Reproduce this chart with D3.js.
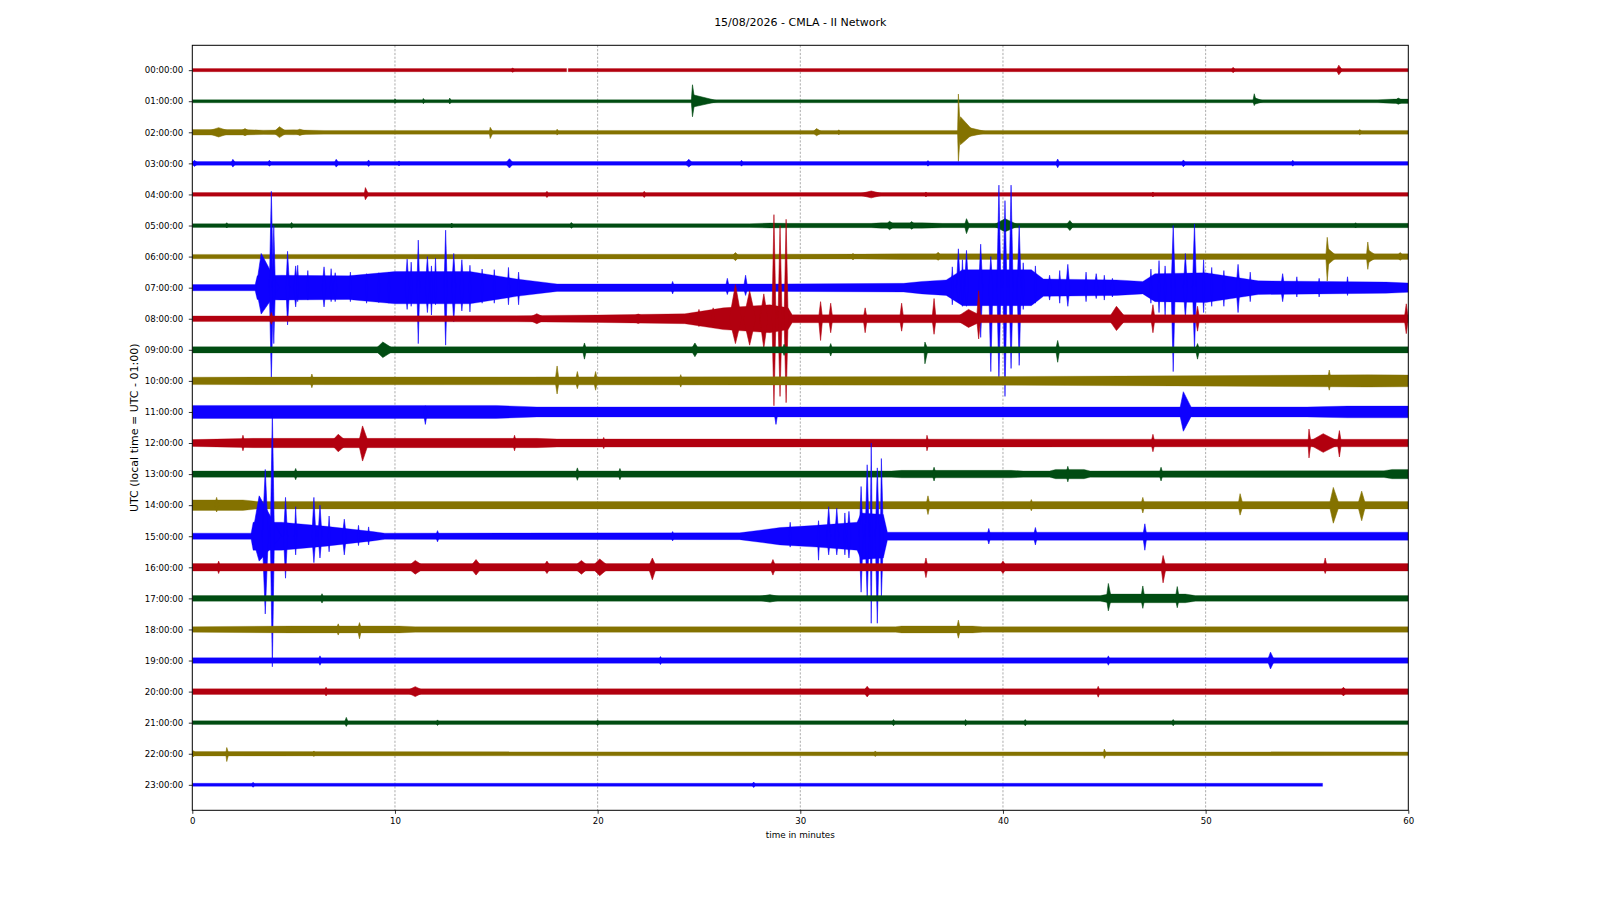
<!DOCTYPE html>
<html>
<head>
<meta charset="utf-8">
<title>CMLA dayplot</title>
<script src="https://cdn.jsdelivr.net/npm/d3@7"></script>
<style>
    body { margin: 0; background: #fff; }
    #chart { width: 1600px; height: 900px; }
    text { font-family: "DejaVu Sans", sans-serif; fill: #000; }
</style>
</head>
<body>
<div id="chart"></div>
<script>
// one trace per hour, minutes on x
var titleText = '15/08/2026 - CMLA - II Network';
var hourLabels = ['00:00:00','01:00:00','02:00:00','03:00:00','04:00:00','05:00:00',
    '06:00:00','07:00:00','08:00:00','09:00:00','10:00:00','11:00:00','12:00:00',
    '13:00:00','14:00:00','15:00:00','16:00:00','17:00:00','18:00:00','19:00:00',
    '20:00:00','21:00:00','22:00:00','23:00:00'];
var minuteTicks = [0, 10, 20, 30, 40, 50, 60];
var traceColors = ['#B2000F', '#004C12', '#847200', '#0E01FF'];

// background noise half-width per hour: [minute, amplitude] (null = data gap)
// amplitude unit: 100 = one trace spacing
var noiseBands = [
    [[0,5],[18.47,5],null,[18.55,5],[60,5]],
    [[0,5],[58.5,5],[59.3,7],[60,7]],
    [[0,9],[2.5,9],[3.5,7],[5,8],[6.5,6],[60,6]],
    [[0,6],[60,6]],
    [[0,6],[60,6]],
    [[0,6],[27.5,6],[28.5,8],[29.4,7],[33.5,7],[34,9],[36,9],[37,7],[60,7]],
    [[0,7],[33,8],[35,9],[60,9]],
    [[0,10],[3.1,10],[3.2,38],[4.4,40],[7.7,38],[10,52],[13.7,52],[16,28],[18,12],[29,12],[35.1,14],[36,20],[37.2,25],[38,58],[41.4,58],[42,28],[45.6,25],[46.9,20],[47.5,45],[50,48],[52.6,22],[58.9,18],[60,15]],
    [[0,9],[16,10],[20,12],[24.3,16],[26.2,35],[28.5,45],[29.4,35],[29.6,13],[60,13]],
    [[0,10],[60,10]],
    [[0,12],[40,14],[51,17],[58,20],[60,19]],
    [[0,21],[15,21],[17,16],[55,16],[57,19],[60,19]],
    [[0,11],[3,15],[17,15],[18,13],[60,12]],
    [[0,10],[34.5,10],[35,12],[40.4,12],[41,10],[42.3,10],[42.6,15],[44,15],[44.3,10],[58.8,11],[59.2,15],[60,15]],
    [[0,17],[2.5,17],[3.2,12],[60,12]],
    [[0,10],[2.9,10],[3.0,45],[4.4,45],[6.6,32],[8.9,15],[9.5,10],[27,11],[29,28],[30.8,35],[32.8,45],[33,75],[34.1,70],[34.3,13],[60,13]],
    [[0,12],[60,12]],
    [[0,9],[44.8,9],[45.2,14],[49,14],[49.5,9],[60,9]],
    [[0,9],[4.9,11],[10.2,11],[11,9],[34.7,9],[35,11],[38.5,11],[39,9],[60,9]],
    [[0,9],[60,9]],
    [[0,9],[60,9]],
    [[0,6],[60,6]],
    [[0,7],[60,6]],
    [[0,5],[55.77,5]]
];

// bursts per hour: [start, peak, end, up, down]
var bursts = [
    [[15.7,15.8,15.95,7,7],[51.25,51.35,51.5,9,8],[56.45,56.57,56.75,16,15]],
    [[9.95,10.0,10.1,8,7],[11.35,11.4,11.5,9,8],[12.65,12.7,12.8,10,9],[24.62,24.68,24.8,53,50],[24.65,24.75,26.0,20,18],[52.33,52.4,52.5,24,14],[52.36,52.45,52.9,10,9],[59.3,59.5,59.8,10,10]],
    [[0.6,1.3,2.0,15,15],[2.3,2.6,2.9,12,11],[4.0,4.3,4.7,18,17],[5.0,5.3,5.8,10,10],[14.65,14.7,14.85,16,20],[17.95,18.0,18.1,10,9],[30.6,30.8,31.1,12,11],[31.8,31.9,32.0,8,8],[37.76,37.8,37.9,123,94],[37.8,37.9,38.6,50,40],[37.9,38.0,39.3,20,18],[57.5,57.6,57.75,9,8]],
    [[0,0.1,0.3,10,10],[1.9,2.0,2.15,13,12],[3.7,3.8,3.95,10,9],[7.0,7.1,7.25,13,12],[8.6,8.7,8.8,11,10],[10.1,10.2,10.3,8,8],[15.45,15.65,15.85,15,15],[24.3,24.5,24.7,13,12],[27.0,27.1,27.2,10,9],[36.2,36.3,36.4,9,9],[42.6,42.7,42.8,14,14],[48.8,48.9,49.05,11,11],[54.2,54.3,54.4,10,9]],
    [[8.48,8.54,8.7,22,17],[17.4,17.5,17.6,10,10],[22.2,22.3,22.4,10,10],[32.8,33.5,34.2,11,11],[36.1,36.2,36.3,8,8],[47.3,47.4,47.5,8,8]],
    [[1.6,1.7,1.8,9,8],[4.8,4.9,5.0,10,9],[12.7,12.8,12.9,8,8],[18.6,18.7,18.85,10,9],[34.2,34.4,34.7,14,14],[35.3,35.5,35.7,13,12],[38.1,38.2,38.35,22,26],[39.5,40.1,40.8,22,20],[43.1,43.3,43.5,16,16],[57.3,57.4,57.5,9,8]],
    [[26.6,26.8,27.0,13,13],[32.4,32.6,32.8,10,10],[36.6,36.8,37.0,14,12],[51.6,51.7,51.8,8,8],[55.93,56.0,56.1,62,79],[55.95,56.05,56.5,25,25],[57.93,58.0,58.1,47,41],[57.95,58.05,58.5,20,18],[59.4,59.6,59.8,13,12]],
    [[3.15,3.4,4.3,110,85],[3.8,3.9,4.0,310,300],[3.95,4.02,4.1,200,180],[4.62,4.7,4.8,117,120],[5.0,5.1,5.2,70,62],[5.14,5.2,5.26,72,45],[5.64,5.7,5.76,55,40],[6.4,6.5,6.6,67,62],[6.79,6.85,6.91,61,45],[6.95,7.05,7.15,48,45],[7.74,7.8,7.86,50,45],[8.54,8.6,8.66,45,50],[9.14,9.2,9.26,48,48],[9.64,9.7,9.76,50,50],[10.5,10.6,10.7,92,70],[10.74,10.8,10.86,82,60],[11.08,11.15,11.22,153,180],[11.5,11.6,11.7,100,80],[11.74,11.8,11.86,70,88],[11.94,12.0,12.06,95,55],[12.42,12.5,12.58,185,185],[12.8,12.9,13.0,110,110],[13.2,13.3,13.4,90,75],[13.64,13.7,13.76,72,78],[14.24,14.3,14.36,60,50],[14.84,14.9,14.96,58,50],[15.54,15.6,15.66,65,55],[16.04,16.1,16.16,50,55],[23.6,23.7,23.8,20,20],[26.3,26.4,26.5,30,22],[27.2,27.3,27.4,40,25],[37.44,37.5,37.56,67,55],[37.7,37.8,37.9,125,45],[37.94,38.0,38.06,90,60],[38.1,38.2,38.3,120,60],[38.8,38.9,39.0,140,160],[39.3,39.4,39.5,100,270],[39.7,39.8,39.9,330,300],[40.0,40.1,40.2,280,350],[40.3,40.4,40.5,330,260],[40.7,40.8,40.9,200,250],[40.94,41.0,41.06,80,70],[41.54,41.6,41.66,70,50],[42.2,42.3,42.4,40,40],[42.74,42.8,42.86,55,50],[43.1,43.2,43.3,75,60],[44.04,44.1,44.16,50,45],[44.5,44.6,44.7,45,35],[44.94,45.0,45.06,40,40],[45.3,45.4,45.5,30,30],[47.24,47.3,47.36,60,50],[47.64,47.7,47.76,87,80],[47.94,48.0,48.06,70,90],[48.3,48.4,48.5,200,270],[48.9,49.0,49.1,110,100],[49.35,49.45,49.55,205,200],[49.84,49.9,49.96,90,80],[50.24,50.3,50.36,65,60],[50.84,50.9,50.96,55,60],[51.5,51.6,51.7,75,80],[52.14,52.2,52.26,50,45],[53.7,53.8,53.9,45,45],[54.44,54.5,54.56,35,30],[55.54,55.6,55.66,30,30],[56.94,57.0,57.06,35,25]],
    [[3.8,3.9,4.0,20,18],[16.5,17,17.5,16,16],[21.5,22,22.5,15,15],[24.9,25.0,25.1,30,25],[25.6,25.7,25.8,35,28],[26.5,26.8,27.1,110,80],[27.2,27.5,27.8,90,85],[28.0,28.2,28.4,80,95],[28.6,28.7,28.8,335,280],[28.9,29.0,29.1,300,250],[29.2,29.3,29.4,320,270],[30.9,31.0,31.1,55,70],[31.4,31.5,31.6,50,45],[33.1,33.2,33.3,35,45],[34.9,35.0,35.1,50,40],[36.5,36.6,36.7,65,50],[37.6,38.3,39.2,30,28],[38.7,38.8,38.9,90,65],[45.2,45.6,46.1,40,38],[47.3,47.4,47.5,45,45],[49.5,49.6,49.7,40,40],[59.8,59.9,60,48,48]],
    [[9.0,9.4,10.0,25,25],[19.25,19.35,19.45,22,30],[24.6,24.8,25.0,22,22],[29.1,29.2,29.3,18,18],[31.4,31.5,31.6,20,20],[36.1,36.15,36.3,25,45],[42.6,42.7,42.8,30,40],[49.5,49.6,49.7,20,30]],
    [[5.8,5.9,6.0,22,22],[17.9,18.0,18.1,48,42],[18.9,19.0,19.1,30,25],[19.8,19.9,20.0,30,30],[24.0,24.1,24.2,20,20],[56.0,56.1,56.2,35,30]],
    [[11.4,11.5,11.6,20,40],[28.7,28.8,28.9,15,40],[48.7,48.9,49.4,65,62]],
    [[2.4,2.5,2.6,25,25],[6.8,7.2,7.7,28,28],[8.2,8.4,8.7,55,58],[15.8,15.9,16.0,25,25],[20.2,20.3,20.4,18,18],[36.2,36.25,36.35,25,25],[47.3,47.4,47.5,28,28],[55.0,55.8,56.7,30,30],[55.05,55.1,55.2,45,48],[56.5,56.6,56.7,40,45]],
    [[5.0,5.1,5.2,18,18],[18.9,19.0,19.1,20,20],[21.0,21.1,21.2,18,18],[36.5,36.6,36.7,22,22],[43.1,43.2,43.3,25,25],[47.7,47.8,47.9,22,22]],
    [[1.1,1.2,1.3,25,22],[36.2,36.3,36.4,30,30],[41.3,41.4,41.5,18,18],[46.8,46.9,47.0,25,25],[51.6,51.7,51.85,37,32],[56.1,56.3,56.6,57,58],[57.5,57.7,57.9,45,50]],
    [[2.95,3.3,4.4,130,80],[3.45,3.6,3.75,215,250],[3.85,3.95,4.05,400,420],[4.5,4.6,4.7,125,135],[5.04,5.1,5.16,95,60],[5.9,6.0,6.1,125,85],[6.2,6.3,6.4,100,70],[6.69,6.75,6.81,65,50],[7.4,7.5,7.6,55,60],[8.14,8.2,8.26,35,30],[8.64,8.7,8.76,30,28],[12.0,12.1,12.2,18,18],[23.6,23.7,23.8,15,15],[29.44,29.5,29.56,45,35],[30.84,30.9,30.96,50,77],[31.3,31.4,31.5,95,60],[31.7,31.8,31.9,90,60],[32.14,32.2,32.26,75,60],[32.3,32.4,32.5,80,70],[32.9,33.0,33.1,160,180],[33.2,33.3,33.4,230,200],[33.45,33.5,33.55,300,280],[33.7,33.8,33.9,220,280],[33.95,34.0,34.1,250,200],[39.2,39.3,39.4,25,25],[41.5,41.6,41.7,28,28],[46.9,47.0,47.1,40,45]],
    [[1.2,1.3,1.4,20,20],[10.6,11.0,11.5,22,22],[13.7,14.0,14.3,25,25],[17.3,17.5,17.7,20,20],[18.8,19.2,19.6,22,22],[19.7,20.1,20.6,27,27],[22.5,22.7,22.9,30,40],[28.5,28.65,28.8,25,25],[36.1,36.2,36.3,30,33],[39.8,40.0,40.2,20,20],[47.8,47.9,48.05,38,50],[55.8,55.9,56.0,30,20]],
    [[6.3,6.4,6.5,15,15],[27.5,28.5,29.4,12,12],[45.1,45.2,45.35,48,40],[46.8,46.9,47.0,40,32],[48.5,48.6,48.7,38,30]],
    [[7.1,7.2,7.3,18,18],[8.15,8.25,8.35,22,30],[37.7,37.8,37.9,30,28]],
    [[6.2,6.3,6.4,15,15],[23.0,23.1,23.2,13,13],[45.1,45.2,45.3,15,15],[53.05,53.2,53.4,27,27]],
    [[6.5,6.6,6.7,14,14],[10.5,11.0,11.5,16,16],[33.1,33.3,33.5,17,17],[44.6,44.7,44.8,17,18],[56.6,56.8,57.0,14,14]],
    [[7.5,7.6,7.7,17,12],[12.0,12.1,12.2,9,9],[19.9,20.0,20.1,9,9],[34.5,34.6,34.7,10,10],[38.1,38.15,38.25,10,10],[41.0,41.1,41.2,10,10],[48.3,48.4,48.5,10,10]],
    [[0,0.05,0.2,10,10],[1.65,1.7,1.8,20,25],[5.9,6.0,6.1,9,9],[33.6,33.7,33.8,9,9],[44.95,45.0,45.1,15,15]],
    [[2.9,3.0,3.1,8,8],[27.6,27.7,27.8,9,9]]
];

var config = {
    width: 1600,
    height: 900,
    left: 192.3,
    right: 1408.3,
    top: 45.3,
    bottom: 810.3
};

function drawChart() {
    var svg = d3.select('#chart').append('svg')
        .attr('width', config.width)
        .attr('height', config.height);

    var x = d3.scaleLinear().domain([0, 60]).range([config.left, config.right]);
    var y = d3.scaleLinear().domain([-0.8, 23.82]).range([config.top, config.bottom]);

    // vertical grid
    svg.append('g').selectAll('line')
        .data(minuteTicks.slice(1, -1))
        .enter().append('line')
        .attr('x1', function(d) { return x(d); })
        .attr('x2', function(d) { return x(d); })
        .attr('y1', config.top)
        .attr('y2', config.bottom)
        .attr('stroke', '#8a8a8a')
        .attr('stroke-width', 0.7)
        .attr('stroke-dasharray', '2.2,1.6');

    svg.append('defs').append('clipPath').attr('id', 'plotclip')
        .append('rect')
        .attr('x', config.left).attr('y', config.top)
        .attr('width', config.right - config.left)
        .attr('height', config.bottom - config.top);

    var traces = svg.append('g').attr('clip-path', 'url(#plotclip)');

    hourLabels.forEach(function(label, row) {
        var color = traceColors[row % traceColors.length];
        var g = traces.append('g');

        var band = d3.area()
            .defined(function(d) { return d !== null; })
            .x(function(d) { return x(d[0]); })
            .y0(function(d) { return y(row + d[1] / 100); })
            .y1(function(d) { return y(row - d[1] / 100); });

        g.append('path')
            .attr('d', band(noiseBands[row]))
            .attr('fill', color)
            .attr('stroke', color)
            .attr('stroke-width', 0.6)
            .attr('stroke-opacity', 0.5);

        var burst = d3.area()
            .x(function(d) { return x(d[0]); })
            .y0(function(d) { return y(row + d[2] / 100); })
            .y1(function(d) { return y(row - d[1] / 100); });

        g.selectAll('path.burst')
            .data(bursts[row])
            .enter().append('path')
            .attr('class', 'burst')
            .attr('d', function(b) {
                return burst([[b[0], 0, 0], [b[1], b[3], b[4]], [b[2], 0, 0]]);
            })
            .attr('fill', color)
            .attr('stroke', color)
            .attr('stroke-width', 0.6);
    });

    // axes
    var yAxis = d3.axisLeft(y)
        .tickValues(d3.range(hourLabels.length))
        .tickFormat(function(d) { return hourLabels[d]; })
        .tickSize(3.5)
        .tickPadding(5.5);
    var xAxis = d3.axisBottom(x)
        .tickValues(minuteTicks)
        .tickFormat(d3.format('d'))
        .tickSize(3.5)
        .tickPadding(4.5);

    var gy = svg.append('g').attr('transform', 'translate(' + config.left + ',0)').call(yAxis);
    var gx = svg.append('g').attr('transform', 'translate(0,' + config.bottom + ')').call(xAxis);
    [gx, gy].forEach(function(g) {
        g.select('.domain').remove();
        g.selectAll('text')
            .attr('font-family', '"DejaVu Sans", sans-serif')
            .attr('font-size', 8.6)
            .attr('fill', '#000');
        g.selectAll('line').attr('stroke', '#000').attr('stroke-width', 0.8);
    });

    svg.append('rect')
        .attr('x', config.left).attr('y', config.top)
        .attr('width', config.right - config.left)
        .attr('height', config.bottom - config.top)
        .attr('fill', 'none')
        .attr('stroke', '#000')
        .attr('stroke-width', 1);

    svg.append('text')
        .attr('x', (config.left + config.right) / 2)
        .attr('y', 25.8)
        .attr('text-anchor', 'middle')
        .attr('font-size', 11)
        .text(titleText);

    svg.append('text')
        .attr('x', (config.left + config.right) / 2)
        .attr('y', 837.7)
        .attr('text-anchor', 'middle')
        .attr('font-size', 8.8)
        .text('time in minutes');

    svg.append('text')
        .attr('transform', 'translate(137.5,' + ((config.top + config.bottom) / 2) + ') rotate(-90)')
        .attr('text-anchor', 'middle')
        .attr('font-size', 11)
        .text('UTC (local time = UTC - 01:00)');
}

document.addEventListener('DOMContentLoaded', drawChart);
</script>
</body>
</html>
